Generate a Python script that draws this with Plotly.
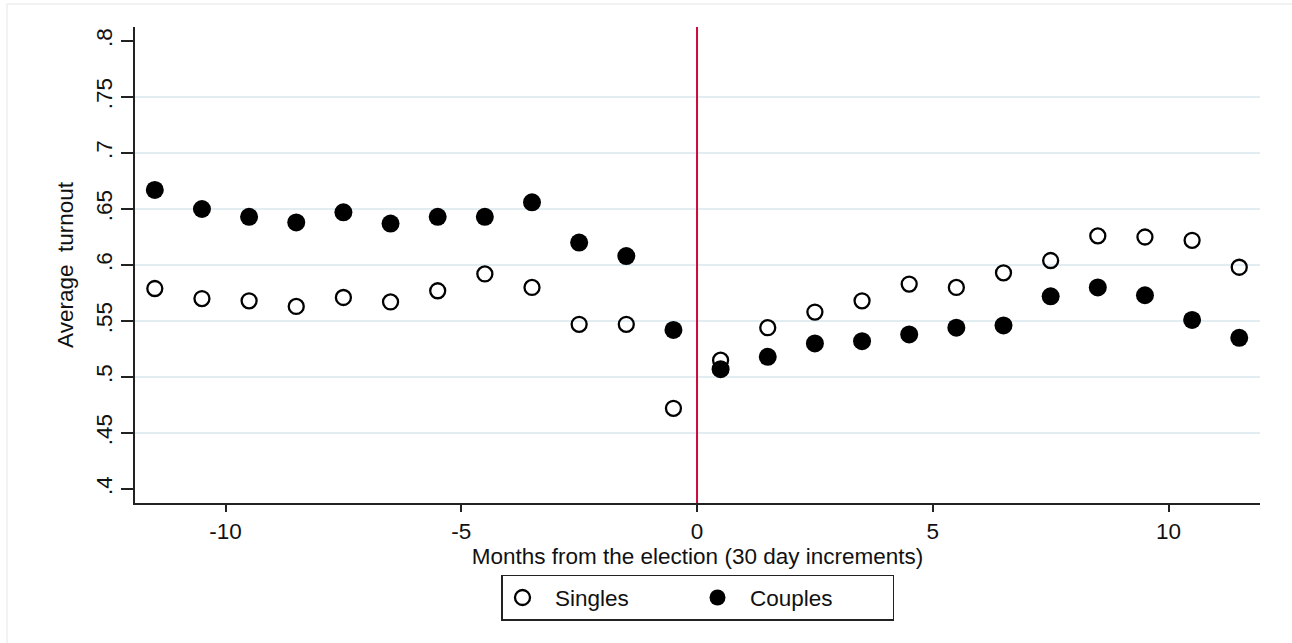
import plotly.graph_objects as go

# Months relative to election day (bin midpoints, 30-day increments)
months = [-11.5, -10.5, -9.5, -8.5, -7.5, -6.5, -5.5, -4.5, -3.5, -2.5, -1.5, -0.5,
          0.5, 1.5, 2.5, 3.5, 4.5, 5.5, 6.5, 7.5, 8.5, 9.5, 10.5, 11.5]

# Average turnout per month bin
singles = [0.579, 0.570, 0.568, 0.563, 0.571, 0.567, 0.577, 0.592, 0.580, 0.547, 0.547, 0.472,
           0.515, 0.544, 0.558, 0.568, 0.583, 0.580, 0.593, 0.604, 0.626, 0.625, 0.622, 0.598]
couples = [0.667, 0.650, 0.643, 0.638, 0.647, 0.637, 0.643, 0.643, 0.656, 0.620, 0.608, 0.542,
           0.507, 0.518, 0.530, 0.532, 0.538, 0.544, 0.546, 0.572, 0.580, 0.573, 0.551, 0.535]

x_ticks = [-10, -5, 0, 5, 10]
x_tick_labels = ["-10", "-5", "0", "5", "10"]
y_ticks = [0.4, 0.45, 0.5, 0.55, 0.6, 0.65, 0.7, 0.75, 0.8]
y_tick_labels = [".4", ".45", ".5", ".55", ".6", ".65", ".7", ".75", ".8"]
grid_values = [0.45, 0.5, 0.55, 0.6, 0.65, 0.7, 0.75]
election_day = 0

FONT = "Liberation Sans, Arial, sans-serif"
FS = 22.5
INK = "#111111"

fig = go.Figure()

fig.add_trace(go.Scatter(
    x=months, y=singles, mode="markers", name="\u00a0\u00a0Singles",
    marker=dict(symbol="circle-open", size=15, color="black", line=dict(width=2.3, color="black")),
))
fig.add_trace(go.Scatter(
    x=months, y=couples, mode="markers", name="\u00a0\u00a0Couples",
    marker=dict(symbol="circle", size=18, color="black", line=dict(width=0)),
))

shapes = []
# horizontal grid lines (interior ticks only)
for g in grid_values:
    shapes.append(dict(type="line", xref="paper", yref="y", x0=0, x1=1, y0=g, y1=g,
                       line=dict(color="#e2edf1", width=2), layer="below"))
# election-day marker
shapes.append(dict(type="line", xref="x", yref="paper", x0=election_day, x1=election_day, y0=0, y1=1,
                   line=dict(color="#cc0a3c", width=2), layer="above"))
# faint outline of the graph region
shapes.append(dict(type="rect", xref="paper", yref="paper",
                   x0=-128 / 1125, x1=1.05, y0=1 + 23 / 476, y1=-0.35,
                   line=dict(color="#eeeeee", width=1.5), layer="below"))

fig.update_layout(
    width=1292, height=643,
    margin=dict(l=135, r=32, t=27, b=140, autoexpand=False),
    paper_bgcolor="white", plot_bgcolor="white",
    font=dict(family=FONT, size=FS, color=INK),
    shapes=shapes,
    showlegend=True,
    legend=dict(
        orientation="h", x=0.5, xanchor="center", y=-0.151, yanchor="top",
        bordercolor="#222222", borderwidth=1.5, bgcolor="white",
        font=dict(family=FONT, size=FS, color=INK),
        entrywidth=150, entrywidthmode="pixels",
        traceorder="normal",
    ),
    xaxis=dict(
        range=[-11.92, 11.94], tickmode="array", tickvals=x_ticks, ticktext=x_tick_labels,
        showgrid=False, zeroline=False, showline=True, linecolor="#222222", linewidth=1.5,
        ticks="outside", ticklen=7, tickwidth=1.5, tickcolor="#222222",
        tickfont=dict(family=FONT, size=FS, color=INK),
        title=dict(text="Months from the election (30 day increments)", standoff=0,
                   font=dict(family=FONT, size=FS, color=INK)),
    ),
    yaxis=dict(
        range=[0.3875, 0.8125], tickmode="array", tickvals=y_ticks, ticktext=y_tick_labels,
        tickangle=-90,
        showgrid=False, zeroline=False, showline=True, linecolor="#222222", linewidth=1.5,
        ticks="outside", ticklen=12, tickwidth=1.5, tickcolor="#222222",
        tickfont=dict(family=FONT, size=FS, color=INK),
        title=dict(text="Average\u00a0 turnout", standoff=12,
                   font=dict(family=FONT, size=FS, color=INK)),
    ),
)

fig.write_html("out.html")
